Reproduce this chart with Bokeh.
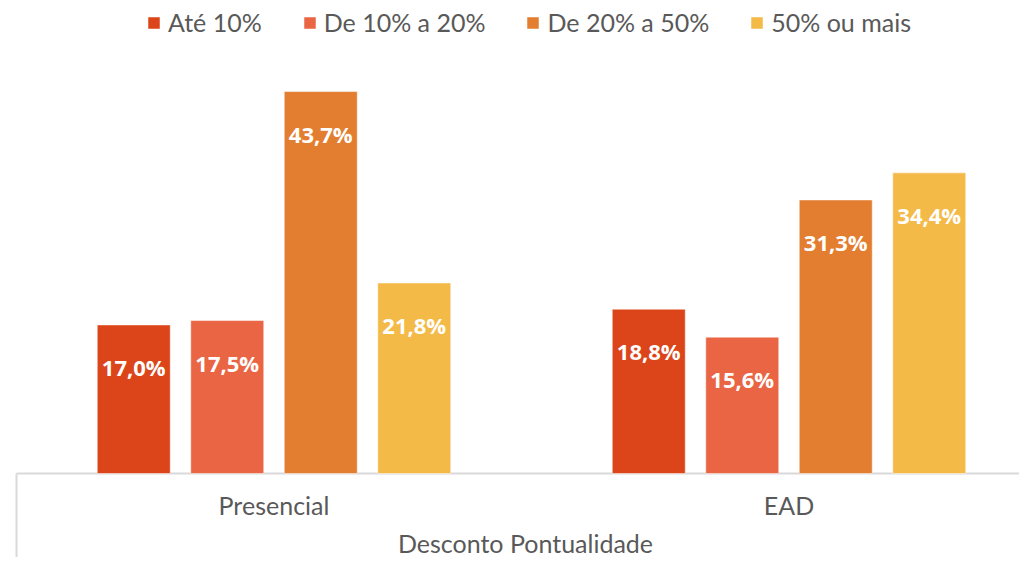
from bokeh.plotting import figure
from bokeh.models import ColumnDataSource, FixedTicker, Legend, LegendItem
from bokeh.core.properties import value
from bokeh.embed import file_html
from bokeh.resources import INLINE

# ---- data ----
categories = ["Presencial", "EAD"]
series = ["Até 10%", "De 10% a 20%", "De 20% a 50%", "50% ou mais"]
ate_10 = [17.0, 18.8]
de_10_20 = [17.5, 15.6]
de_20_50 = [43.7, 31.3]
mais_50 = [21.8, 34.4]
axis_title = "Desconto Pontualidade"

# ---- style ----
colors = ["#DC4419", "#EA6544", "#E37E30", "#F4BA47"]
text_grey = "#595959"
line_grey = "#D9D9D9"

values = [ate_10, de_10_20, de_20_50, mais_50]

W, H = 1019, 557
x_start, x_end = -0.03107, 1.94757
y_start, y_end = -9.611, 54.12
step = 93.5 / 515
bar_w = 73 / 515

p = figure(width=W, height=H, x_range=(x_start, x_end), y_range=(y_start, y_end),
           output_backend="svg", toolbar_location=None, min_border=0,
           y_axis_location=None)
p.grid.visible = False
p.outline_line_color = None
p.background_fill_color = "white"
p.border_fill_color = "white"

# frame lines of the category axis
p.segment(x0=[0, 0], y0=[0, y_start], x1=[x_end, 0], y1=[0, 0],
          line_color=line_grey, line_width=2)

items = []
for j, (name, vals, col) in enumerate(zip(series, values, colors)):
    xs = [i + 0.5 + (j - 1.5) * step for i in range(len(categories))]
    labels = [f"{v:.1f}%".replace(".", ",") for v in vals]
    src = ColumnDataSource(dict(x=xs, top=vals, label=labels))
    r = p.vbar(x="x", top="top", bottom=0, width=bar_w, source=src,
               fill_color=col, line_color="white", line_alpha=0.5, line_width=1)
    p.text(x="x", y="top", text="label", source=src, text_align="center",
           text_baseline="middle", y_offset=42, text_color="white",
           text_font=value("Open Sans"), text_font_style="bold",
           text_font_size="22px")
    items.append(LegendItem(label=name, renderers=[r]))

legend = Legend(items=items, orientation="horizontal", location=(146, 520),
                border_line_color=None, background_fill_alpha=0, padding=0,
                margin=0, spacing=40, label_standoff=7, glyph_width=15,
                glyph_height=15, label_text_font="Lato",
                label_text_font_size="25px", label_text_color=text_grey)
p.add_layout(legend)

ax = p.xaxis[0]
ax.fixed_location = 0
ax.bounds = (0.03, 1.97)
ax.ticker = FixedTicker(ticks=[0.5, 1.5])
ax.major_label_overrides = {0.5: categories[0], 1.5: categories[1]}
ax.axis_line_color = None
ax.major_tick_line_color = None
ax.minor_tick_line_color = None
ax.major_label_text_font = "Lato"
ax.major_label_text_font_size = "25px"
ax.major_label_text_color = text_grey
ax.major_label_standoff = 10
ax.axis_label = axis_title
ax.axis_label_text_font = "Lato"
ax.axis_label_text_font_size = "25px"
ax.axis_label_text_font_style = "normal"
ax.axis_label_text_color = text_grey
ax.axis_label_standoff = 5

open("out.html", "w").write(file_html(p, INLINE))
